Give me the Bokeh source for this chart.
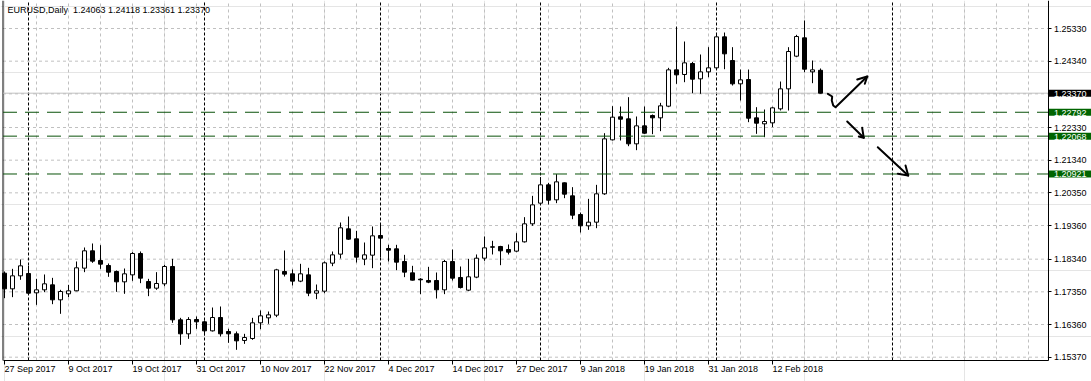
import pandas as pd
from bokeh.plotting import figure
from bokeh.models import (ColumnDataSource, FixedTicker, Range1d, Label, LinearAxis,
                          PrintfTickFormatter)
from bokeh.core.properties import value
from bokeh.embed import file_html
from bokeh.resources import INLINE

# ---------------- data ----------------
header_text = "EURUSD,Daily\u00a0 1.24063 1.24118 1.23361 1.23370"
first_day = "2017-09-27"
last_day = "2018-02-20"
holidays = ["2017-12-25", "2018-01-01"]
next_month_start = "2018-03-01"

opens = [1.17916, 1.17441, 1.17835, 1.17906, 1.17320, 1.17411, 1.17562, 1.17108, 1.17290, 1.17381,
         1.18068, 1.18593, 1.18300, 1.18148, 1.17966, 1.17653, 1.17865, 1.18512, 1.17663, 1.17461,
         1.17593, 1.18118, 1.16502, 1.16078, 1.16512, 1.16441, 1.16168, 1.16572, 1.16148, 1.16078,
         1.15876, 1.15936, 1.16411, 1.16562, 1.16643, 1.17966, 1.17896, 1.17674, 1.17865, 1.17310,
         1.17370, 1.18219, 1.18492, 1.19259, 1.18956, 1.18340, 1.18461, 1.19057, 1.18663, 1.18653,
         1.18269, 1.17926, 1.17734, 1.17694, 1.17694, 1.17411, 1.18269, 1.17785, 1.17401, 1.17795,
         1.18370, 1.18714, 1.18724, 1.18633, 1.18583, 1.18865, 1.19411, 1.20037, 1.20592, 1.20138,
         1.20653, 1.20259, 1.19693, 1.19350, 1.19461, 1.20320, 1.21956, 1.22653, 1.22592, 1.21835,
         1.22380, 1.22693, 1.22623, 1.22976, 1.24077, 1.23936, 1.24269, 1.23804, 1.24016, 1.24138,
         1.25077, 1.24360, 1.23653, 1.23784, 1.22622, 1.22441, 1.22471, 1.22895, 1.23501, 1.24491,
         1.25047, 1.24016, 1.24063]
highs = [1.17966, 1.18047, 1.18330, 1.18138, 1.17744, 1.17876, 1.17774, 1.17411, 1.17562, 1.18270,
         1.18694, 1.18815, 1.18764, 1.18209, 1.17997, 1.18057, 1.18552, 1.18573, 1.17744, 1.17946,
         1.18168, 1.18350, 1.16562, 1.16583, 1.16603, 1.16481, 1.16875, 1.16906, 1.16229, 1.16148,
         1.16078, 1.16562, 1.16785, 1.16754, 1.18047, 1.18603, 1.18027, 1.18199, 1.18078, 1.17572,
         1.18270, 1.18572, 1.19451, 1.19633, 1.19199, 1.18845, 1.19330, 1.19411, 1.18775, 1.18775,
         1.18471, 1.18138, 1.17764, 1.18108, 1.17936, 1.18320, 1.18633, 1.18118, 1.18350, 1.18482,
         1.19027, 1.18896, 1.18744, 1.18785, 1.19128, 1.19613, 1.20259, 1.20825, 1.20653, 1.20916,
         1.20663, 1.20522, 1.19754, 1.20168, 1.20592, 1.22158, 1.22976, 1.22966, 1.23249, 1.22663,
         1.22966, 1.22724, 1.23077, 1.24138, 1.25390, 1.24936, 1.24319, 1.24542, 1.24764, 1.25168,
         1.25208, 1.24764, 1.24087, 1.24087, 1.22946, 1.22875, 1.22956, 1.23723, 1.24764, 1.25138,
         1.25572, 1.24360, 1.24118]
lows = [1.17158, 1.17189, 1.17714, 1.17290, 1.16956, 1.17340, 1.16976, 1.16684, 1.17189, 1.17370,
        1.17946, 1.18229, 1.18047, 1.17805, 1.17350, 1.17290, 1.17684, 1.17613, 1.17219, 1.17411,
        1.17522, 1.16411, 1.15744, 1.15926, 1.16229, 1.16027, 1.16148, 1.15997, 1.15805, 1.15593,
        1.15774, 1.15896, 1.16219, 1.16381, 1.16583, 1.17815, 1.17542, 1.17643, 1.17219, 1.17128,
        1.17310, 1.18128, 1.18360, 1.18926, 1.18239, 1.18158, 1.18067, 1.18391, 1.18269, 1.18007,
        1.17795, 1.17694, 1.17280, 1.17613, 1.17148, 1.17280, 1.17694, 1.17451, 1.17370, 1.17764,
        1.18290, 1.18482, 1.18158, 1.18482, 1.18552, 1.18845, 1.19350, 1.20017, 1.19996, 1.20037,
        1.20188, 1.19552, 1.19148, 1.19229, 1.19279, 1.20289, 1.21936, 1.21936, 1.21764, 1.21643,
        1.22138, 1.22128, 1.22219, 1.22946, 1.23653, 1.23703, 1.23370, 1.23350, 1.23855, 1.24117,
        1.24097, 1.23602, 1.23148, 1.22491, 1.22138, 1.22037, 1.22340, 1.22845, 1.22845, 1.24461,
        1.24006, 1.23673, 1.23361]
closes = [1.17441, 1.17835, 1.18138, 1.17310, 1.17411, 1.17593, 1.17108, 1.17360, 1.17381, 1.18078,
          1.18593, 1.18280, 1.18189, 1.17946, 1.17653, 1.17896, 1.18512, 1.17765, 1.17461, 1.17603,
          1.18118, 1.16502, 1.16078, 1.16512, 1.16441, 1.16168, 1.16572, 1.16078, 1.16078, 1.15865,
          1.15966, 1.16411, 1.16623, 1.16653, 1.18017, 1.17886, 1.17674, 1.17896, 1.17310, 1.17381,
          1.18229, 1.18471, 1.19290, 1.18946, 1.18401, 1.18471, 1.19047, 1.18977, 1.18613, 1.18249,
          1.17946, 1.17704, 1.17714, 1.17643, 1.17411, 1.18269, 1.17764, 1.17481, 1.17805, 1.18370,
          1.18684, 1.18704, 1.18593, 1.18552, 1.18865, 1.19411, 1.19986, 1.20592, 1.20128, 1.20683,
          1.20310, 1.19673, 1.19350, 1.19461, 1.20320, 1.21986, 1.22643, 1.22582, 1.21835, 1.22380,
          1.22158, 1.22623, 1.22986, 1.24077, 1.23925, 1.24289, 1.23794, 1.24016, 1.24138, 1.25077,
          1.24562, 1.23653, 1.23774, 1.22612, 1.22461, 1.22511, 1.22925, 1.23501, 1.24633, 1.25087,
          1.24097, 1.24077, 1.23370]

date_labels = ["27 Sep 2017", "9 Oct 2017", "19 Oct 2017", "31 Oct 2017", "10 Nov 2017",
               "22 Nov 2017", "4 Dec 2017", "14 Dec 2017", "27 Dec 2017", "9 Jan 2018",
               "19 Jan 2018", "31 Jan 2018", "12 Feb 2018"]
date_label_bars = [0, 8, 16, 24, 32, 40, 48, 56, 64, 72, 80, 88, 96]
axis_prices = [1.15370, 1.16360, 1.17350, 1.18340, 1.19360, 1.20350, 1.21340, 1.22330, 1.24340, 1.25330]
hidden_grid_prices = [1.23350]
level_prices = [1.22792, 1.22068, 1.20921]
level_labels = ["1.22792", "1.22068", "1.20921"]
last_price = 1.23370
last_price_label = "1.23370"

# hand-drawn scenario arrows (bar index, price)
curve_up_x = [102.92, 103.46, 103.41, 103.59, 103.88, 107.84]
curve_up_y = [1.23351, 1.23269, 1.23148, 1.22997, 1.22945, 1.23875]
head_up_x = [106.59, 107.84, 107.54]
head_up_y = [1.23784, 1.23875, 1.23654]
arrow_mid_x = [105.34, 107.41]
arrow_mid_y = [1.22512, 1.22018]
head_mid_x = [106.79, 107.41, 107.21]
head_mid_y = [1.22057, 1.22018, 1.22321]
arrow_low_x = [109.16, 112.96]
arrow_low_y = [1.21733, 1.20876]
head_low_x = [111.66, 112.96, 112.63]
head_low_y = [1.20927, 1.20876, 1.21179]

# ---------------- layout (bars are 8 px apart, 3300 px per price unit) ----------------
X_START, X_END = -0.5, 135.875          # whole canvas width
Y_START, Y_END = 1.146330, 1.261785     # whole canvas height
PLOT_LEFT, PLOT_RIGHT = -0.1875, 130.4375
PLOT_BOTTOM = 1.152694

FONT = "Liberation Sans"
GREEN = "#006400"
LEVEL_GREEN = "#0a520a"
GRID = "#c0c0c0"

# ---------------- derived ----------------
dates = pd.bdate_range(first_day, last_day, freq="C", holidays=holidays)
n = len(dates)
bars = list(range(n))
month_starts = [i for i in range(1, n) if dates[i].month != dates[i - 1].month]
future_sep = n - 1 + (pd.Timestamp(next_month_start) - dates[-1]).days
separators = month_starts + [future_sep]
vgrid_bars = list(range(4, int(PLOT_RIGHT), 4))
hgrid_prices = axis_prices + hidden_grid_prices

src = ColumnDataSource(dict(
    x=bars, high=highs, low=lows,
    top=[max(o, c) for o, c in zip(opens, closes)],
    bottom=[min(o, c) for o, c in zip(opens, closes)],
    fill=["white" if c >= o else "black" for o, c in zip(opens, closes)],
))

p = figure(width=1091, height=381, output_backend="svg", toolbar_location=None,
           x_range=Range1d(X_START, X_END), y_range=Range1d(Y_START, Y_END),
           x_axis_location=None, y_axis_location=None,
           min_border_left=0, min_border_right=0, min_border_top=0, min_border_bottom=0,
           outline_line_color=None, background_fill_color="white", border_fill_color="white")

# grid (dashed gray)
p.segment(x0=vgrid_bars, y0=[PLOT_BOTTOM] * len(vgrid_bars), x1=vgrid_bars, y1=[Y_END] * len(vgrid_bars),
          line_color=GRID, line_width=1, line_dash="3 3")
p.segment(x0=[PLOT_LEFT] * len(hgrid_prices), y0=hgrid_prices, x1=[PLOT_RIGHT] * len(hgrid_prices),
          y1=hgrid_prices, line_color=GRID, line_width=1, line_dash="3 3")

# month separators
p.segment(x0=separators, y0=[PLOT_BOTTOM] * len(separators), x1=separators, y1=[Y_END] * len(separators),
          line_color="black", line_width=1, line_dash="3 2")

# left border
p.segment(x0=[PLOT_LEFT], y0=[PLOT_BOTTOM], x1=[PLOT_LEFT], y1=[Y_END], line_color="black", line_width=1)

# current price line
p.segment(x0=[PLOT_LEFT], y0=[last_price], x1=[PLOT_RIGHT], y1=[last_price], line_color=GRID, line_width=1)

# candles
p.segment(x0="x", y0="low", x1="x", y1="high", line_color="black", line_width=1, source=src)
p.vbar(x="x", width=0.5, top="top", bottom="bottom", fill_color="fill", line_color="black",
       line_width=1, source=src)

# horizontal levels
p.segment(x0=[PLOT_LEFT] * len(level_prices), y0=level_prices, x1=[PLOT_RIGHT] * len(level_prices),
          y1=level_prices, line_color=LEVEL_GREEN, line_width=1, line_dash="14 8")

# hand-drawn arrows
for xs, ys in ((curve_up_x, curve_up_y), (head_up_x, head_up_y), (arrow_mid_x, arrow_mid_y),
               (head_mid_x, head_mid_y), (arrow_low_x, arrow_low_y), (head_low_x, head_low_y)):
    p.line(xs, ys, line_color="black", line_width=2, line_cap="round", line_join="round")

# axes drawn at fixed locations inside the canvas
yaxis = LinearAxis(fixed_location=PLOT_RIGHT, bounds=(PLOT_BOTTOM, Y_END),
                   ticker=FixedTicker(ticks=axis_prices), formatter=PrintfTickFormatter(format="%.5f"))
yaxis.axis_line_color = "black"
yaxis.major_tick_in = 0
yaxis.major_tick_out = 3
yaxis.major_tick_line_color = "black"
yaxis.minor_tick_line_color = None
yaxis.major_label_standoff = 3
yaxis.major_label_text_font = FONT
yaxis.major_label_text_font_size = "9px"
yaxis.major_label_text_color = "black"
p.add_layout(yaxis, "right")

xaxis = LinearAxis(fixed_location=PLOT_BOTTOM, bounds=(PLOT_LEFT, PLOT_RIGHT),
                   ticker=FixedTicker(ticks=date_label_bars))
xaxis.major_label_overrides = {b: "" for b in date_label_bars}
xaxis.axis_line_color = "black"
xaxis.major_tick_in = 0
xaxis.major_tick_out = 4
xaxis.major_tick_line_color = "black"
xaxis.minor_tick_line_color = None
p.add_layout(xaxis, "below")

# date labels, left-aligned at their ticks
p.text(x=date_label_bars, y=[PLOT_BOTTOM] * len(date_label_bars), text=date_labels,
       text_font=value(FONT), text_font_size=value("9px"), text_color="black",
       text_align="left", text_baseline="top", y_offset=4)

# header
p.add_layout(Label(x=X_START, y=Y_END, x_offset=7, y_offset=-4, text=header_text,
                   text_font=FONT, text_font_size="9px", text_color="black", text_baseline="top"))

# right price boxes
p.add_layout(Label(x=PLOT_RIGHT, y=last_price, x_offset=1, text=last_price_label, text_font=FONT,
                   text_font_size="9px", text_color="white", text_baseline="middle",
                   background_fill_color="black", padding=dict(left=5, right=5, top=1, bottom=0)))
for lv, lt in zip(level_prices, level_labels):
    p.add_layout(Label(x=PLOT_RIGHT, y=lv, x_offset=1, text=lt, text_font=FONT,
                       text_font_size="9px", text_color="white", text_baseline="middle",
                       background_fill_color=GREEN, padding=dict(left=5, right=5, top=1, bottom=0)))

open("out.html", "w").write(file_html(p, INLINE))
